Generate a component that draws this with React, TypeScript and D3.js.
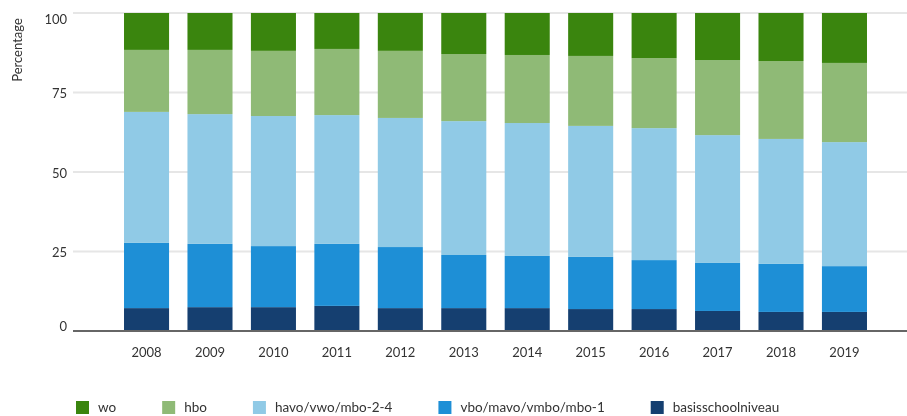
import React, { useRef, useEffect } from "react";
import * as d3 from "d3";

const years = ["2008", "2009", "2010", "2011", "2012", "2013", "2014", "2015", "2016", "2017", "2018", "2019"];

// bottom to top
const basisschoolniveau = [7.2, 7.5, 7.5, 7.9, 7.2, 7.2, 7.2, 6.9, 6.9, 6.3, 6.0, 6.0];
const vbo = [20.5, 19.9, 19.2, 19.5, 19.2, 16.7, 16.4, 16.4, 15.4, 15.1, 15.1, 14.4];
const havo = [41.2, 40.8, 40.9, 40.5, 40.6, 42.1, 41.8, 41.2, 41.5, 40.2, 39.3, 39.0];
const hbo = [19.5, 20.2, 20.5, 20.8, 21.1, 21.1, 21.4, 22.0, 22.0, 23.6, 24.5, 24.9];
const wo = [11.6, 11.6, 11.9, 11.3, 11.9, 12.9, 13.2, 13.5, 14.2, 14.8, 15.1, 15.7];

const seriesNames = ["basisschoolniveau", "vbo/mavo/vmbo/mbo-1", "havo/vwo/mbo-2-4", "hbo", "wo"];
const seriesValues = [basisschoolniveau, vbo, havo, hbo, wo];
const seriesColors = ["#153f70", "#1e8fd6", "#90cae6", "#8fba76", "#3a850e"];
const yTicks = [0, 25, 50, 75, 100];

const FONT = "Lato, 'Open Sans', sans-serif";

function StackedBars() {
  const svgRef = useRef<SVGSVGElement>(null);

  useEffect(() => {
    const svg = d3.select(svgRef.current);
    svg.selectAll("*").remove();

    const width = 907;
    const margin = { left: 73, top: 13 };

    const rows = years.map((year, i) => {
      const row: any = { year };
      seriesNames.forEach((name, s) => (row[name] = seriesValues[s][i]));
      return row;
    });
    const stacked = d3.stack().keys(seriesNames)(rows);

    const x = d3
      .scaleBand()
      .domain(years)
      .range([114.5, 876.5])
      .paddingInner(0.29)
      .paddingOuter(0.15);
    const y = d3.scaleLinear().domain([0, 100]).range([331, margin.top]);

    // grid
    svg
      .append("g")
      .selectAll("line")
      .data(yTicks.filter((t) => t > 0))
      .join("line")
      .attr("x1", margin.left)
      .attr("x2", width)
      .attr("y1", (d) => y(d))
      .attr("y2", (d) => y(d))
      .attr("stroke", "#e6e6e6")
      .attr("stroke-width", 2);

    // y labels
    svg
      .append("g")
      .selectAll("text")
      .data(yTicks)
      .join("text")
      .attr("x", 67)
      .attr("y", (d) => Math.min(326, Math.max(19, y(d) + 1)))
      .attr("dy", "0.35em")
      .attr("text-anchor", "end")
      .attr("font-family", FONT)
      .attr("font-size", 13)
      .attr("fill", "#333")
      .text((d) => d);

    svg
      .append("text")
      .attr("transform", "translate(22,50) rotate(-90)")
      .attr("text-anchor", "middle")
      .attr("font-family", FONT)
      .attr("font-size", 13)
      .attr("fill", "#333")
      .text("Percentage");

    // bars
    svg
      .append("g")
      .selectAll("g")
      .data(stacked)
      .join("g")
      .attr("fill", (d, i) => seriesColors[i])
      .selectAll("rect")
      .data((d) => d)
      .join("rect")
      .attr("x", (d: any) => x(d.data.year))
      .attr("width", x.bandwidth())
      .attr("y", (d) => y(d[1]))
      .attr("height", (d) => y(d[0]) - y(d[1]));

    // baseline
    svg
      .append("line")
      .attr("x1", margin.left)
      .attr("x2", width)
      .attr("y1", y(0))
      .attr("y2", y(0))
      .attr("stroke", "#666")
      .attr("stroke-width", 2);

    // x labels
    svg
      .append("g")
      .selectAll("text")
      .data(years)
      .join("text")
      .attr("x", (d) => x(d) + x.bandwidth() / 2)
      .attr("y", 357)
      .attr("text-anchor", "middle")
      .attr("font-family", FONT)
      .attr("font-size", 13)
      .attr("fill", "#333")
      .text((d) => d);

    // legend, top series first
    const legend = svg.append("g");
    let lx = 76;
    [4, 3, 2, 1, 0].forEach((s) => {
      const item = legend.append("g").attr("transform", `translate(${lx},0)`);
      item
        .append("rect")
        .attr("y", 401)
        .attr("width", 13)
        .attr("height", 13)
        .attr("fill", seriesColors[s]);
      const t = item
        .append("text")
        .attr("x", 22)
        .attr("y", 412)
        .attr("font-family", FONT)
        .attr("font-size", 13.5)
        .attr("fill", "#333")
        .text(seriesNames[s]);
      const w = (t.node() as SVGTextElement).getComputedTextLength();
      lx += 22 + w + 46;
    });
  }, []);

  return <svg ref={svgRef} width={907} height={416} style={{ display: "block" }} />;
}

export default function App() {
  return (
    <div style={{ position: "fixed", left: 0, top: 0 }}>
      <StackedBars />
    </div>
  );
}
